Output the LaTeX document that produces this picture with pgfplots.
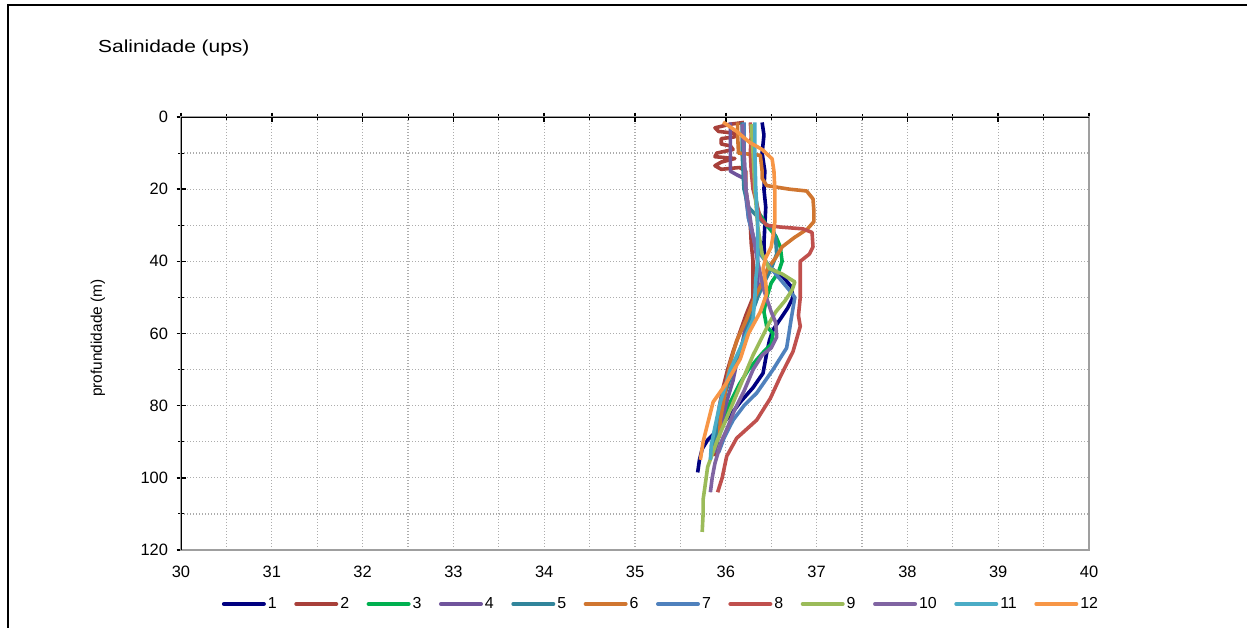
\documentclass[border=0pt]{standalone}
\usepackage{fontspec}
\setmainfont{Liberation Sans}
\newfontfamily\titlefont{Liberation Sans}[FakeStretch=1.2]
\usepackage{pgfplots}
\pgfplotsset{compat=1.18}
\definecolor{c1}{RGB}{0,0,128}
\definecolor{c2}{RGB}{168,64,58}
\definecolor{c3}{RGB}{0,176,80}
\definecolor{c4}{RGB}{112,84,156}
\definecolor{c5}{RGB}{49,133,155}
\definecolor{c6}{RGB}{208,118,48}
\definecolor{c7}{RGB}{79,129,189}
\definecolor{c8}{RGB}{192,80,77}
\definecolor{c9}{RGB}{155,187,89}
\definecolor{c10}{RGB}{128,100,162}
\definecolor{c11}{RGB}{75,172,198}
\definecolor{c12}{RGB}{247,150,70}
\begin{document}
\begin{tikzpicture}
\useasboundingbox (0bp,0bp) rectangle (1247bp,628bp);
\draw[line width=2bp] (8bp,0bp) -- (8bp,623bp) -- (1247bp,623bp);
\node[anchor=west, inner sep=0pt, font=\titlefont\fontsize{17.5}{20}\selectfont] at (98bp,580bp) {Salinidade (ups)};
\node[rotate=90, inner sep=0pt, font=\fontsize{15.5}{18}\selectfont] at (98bp,290bp) {profundidade (m)};
\begin{axis}[
  at={(181bp,78bp)}, anchor=south west, scale only axis,
  width=908bp, height=433bp,
  xmin=30, xmax=40, ymin=0, ymax=120, y dir=reverse,
  xtick={30,31,...,40}, minor x tick num=1,
  ytick={0,20,...,120}, minor y tick num=1,
  grid=both,
  major grid style={gray!65, dash pattern=on 1.3bp off 1.7bp, line width=1.2bp},
  minor grid style={gray!65, dash pattern=on 1.3bp off 1.7bp, line width=1.2bp},
  axis line style={draw=gray!75, line width=1.6bp},
  tick align=center, major tick length=9bp, minor tick length=6bp,
  major tick style={black, line width=1.6bp},
  minor tick style={black, line width=1bp},
  xtick pos=right, xticklabel pos=left, ytick pos=left,
  tick label style={font=\fontsize{16.5}{18}\selectfont},
  xticklabel style={yshift=-8bp},
  yticklabel style={xshift=-5bp},
  /pgf/number format/assume math mode=true,
  legend columns=12,
  legend style={draw=none, fill=none, at={(axis description cs:0.5286,-0.1247)}, anchor=center,
    font=\fontsize{16}{18}\selectfont,
    /tikz/every even column/.append style={column sep=15.5bp}},
  legend image code/.code={\draw[line width=4bp, line cap=round] (0bp,0bp) -- (40bp,0bp);},
  every axis plot/.append style={line width=3.6bp, line join=round, no marks},
]
\addplot[c1] coordinates {(36.40,1.5) (36.42,5) (36.40,10) (36.43,15) (36.42,20) (36.44,25) (36.43,30) (36.42,35) (36.43,40) (36.50,42) (36.62,44) (36.72,47) (36.74,50) (36.68,53) (36.60,56) (36.52,59) (36.48,62) (36.45,65.5) (36.41,71) (36.30,75) (36.16,79) (36.10,81) (36.00,84) (35.90,87) (35.80,89.5) (35.74,92) (35.71,95) (35.69,98.5)};
\addlegendentry{1}
\addplot[c2] coordinates {(36.20,1.5) (36.05,2) (35.88,3) (35.92,4) (36.10,4.5) (36.10,5.5) (35.95,6) (35.95,7.5) (36.05,8) (36.08,9) (35.90,10) (35.88,11) (36.10,11.5) (35.95,12.5) (35.88,13.5) (35.95,14.5) (36.15,14) (36.22,15) (36.22,20) (36.25,25) (36.27,30) (36.28,35) (36.30,40) (36.30,45) (36.30,50) (36.22,55) (36.15,60) (36.08,65) (36.02,70) (35.97,75) (35.93,80) (35.90,85) (35.88,90) (35.87,94)};
\addlegendentry{2}
\addplot[c3] coordinates {(36.30,2) (36.30,10) (36.32,20) (36.35,26) (36.45,30) (36.55,33) (36.60,36) (36.62,40) (36.58,43) (36.50,46) (36.45,50) (36.42,54) (36.45,58) (36.52,60) (36.50,63) (36.42,65) (36.35,67) (36.25,70) (36.15,74) (36.05,79) (35.97,84) (35.92,88) (35.90,91)};
\addlegendentry{3}
\addplot[c4] coordinates {(36.05,1.5) (36.05,5) (36.05,10) (36.05,15) (36.12,16) (36.20,17) (36.22,22) (36.25,28) (36.30,33) (36.35,38) (36.35,44) (36.36,49) (36.30,53) (36.22,58) (36.18,63) (36.12,68) (36.08,73) (36.02,78) (35.97,83) (35.92,88) (35.88,93)};
\addlegendentry{4}
\addplot[c5] coordinates {(36.18,1.5) (36.18,10) (36.20,20) (36.25,25) (36.40,29) (36.52,31) (36.55,34) (36.56,38) (36.50,42) (36.42,46) (36.35,50) (36.28,55) (36.22,60) (36.15,65) (36.08,70) (36.00,76) (35.95,82) (35.90,88) (35.86,93)};
\addlegendentry{5}
\addplot[c6] coordinates {(36.13,1.5) (36.13,5) (36.14,10) (36.38,10.6) (36.40,15) (36.40,17) (36.45,19) (36.70,20) (36.89,20.5) (36.96,22.7) (36.97,26) (36.97,29) (36.90,31) (36.75,33.5) (36.62,36) (36.55,39) (36.46,42) (36.40,46) (36.32,50) (36.23,56) (36.12,62) (36.05,68) (36.02,72) (35.98,78) (35.94,84) (35.93,89)};
\addlegendentry{6}
\addplot[c7] coordinates {(36.20,1.5) (36.20,10) (36.22,20) (36.25,28) (36.30,33) (36.38,38) (36.50,42) (36.60,45) (36.70,48) (36.76,50) (36.72,56) (36.67,64) (36.52,70) (36.34,76.5) (36.20,80) (36.08,84) (35.98,89) (35.92,93)};
\addlegendentry{7}
\addplot[c8] coordinates {(36.27,1.5) (36.28,5) (36.27,10) (36.28,15) (36.30,20) (36.35,25) (36.38,28) (36.45,30) (36.60,30.5) (36.85,31) (36.95,32) (36.96,36) (36.92,38) (36.82,40) (36.82,45) (36.82,50) (36.80,55) (36.82,58) (36.74,65) (36.60,72) (36.49,78) (36.34,84) (36.12,89) (36.01,94) (35.96,100) (35.91,104)};
\addlegendentry{8}
\addplot[c9] coordinates {(36.28,2) (36.30,10) (36.32,20) (36.35,30) (36.40,38) (36.48,42) (36.62,43.5) (36.76,45.7) (36.73,48) (36.65,51) (36.55,54) (36.48,57) (36.40,61) (36.30,66) (36.20,72) (36.10,78) (36.00,84) (35.90,90) (35.80,97) (35.77,102.5) (35.75,106) (35.75,110) (35.74,115)};
\addlegendentry{9}
\addplot[c10] coordinates {(36.18,2) (36.20,10) (36.22,20) (36.28,30) (36.35,40) (36.42,48) (36.50,54) (36.55,57) (36.56,61) (36.50,64) (36.40,66) (36.30,70) (36.20,76) (36.10,81) (36.02,86) (35.95,90) (35.88,96) (35.85,100) (35.83,104)};
\addlegendentry{10}
\addplot[c11] coordinates {(36.32,1.5) (36.32,10) (36.33,20) (36.35,29) (36.35,35) (36.35,40) (36.33,45) (36.32,50) (36.30,56) (36.16,64) (36.05,70) (35.94,79) (35.88,86) (35.84,91) (35.83,95)};
\addlegendentry{11}
\addplot[c12] coordinates {(35.97,1.4) (36.12,4) (36.26,7) (36.40,9) (36.51,11.6) (36.53,15) (36.54,20) (36.54,25) (36.54,29) (36.52,33) (36.50,36) (36.44,39) (36.41,42) (36.44,46) (36.45,49) (36.38,54) (36.25,60) (36.16,67) (36.00,74) (35.86,79) (35.79,86) (35.75,90) (35.72,95)};
\addlegendentry{12}
\draw[black, line width=2bp] (axis cs:30,120) -- (axis cs:30,0) -- (axis cs:40,0);
\end{axis}
\end{tikzpicture}
\end{document}
